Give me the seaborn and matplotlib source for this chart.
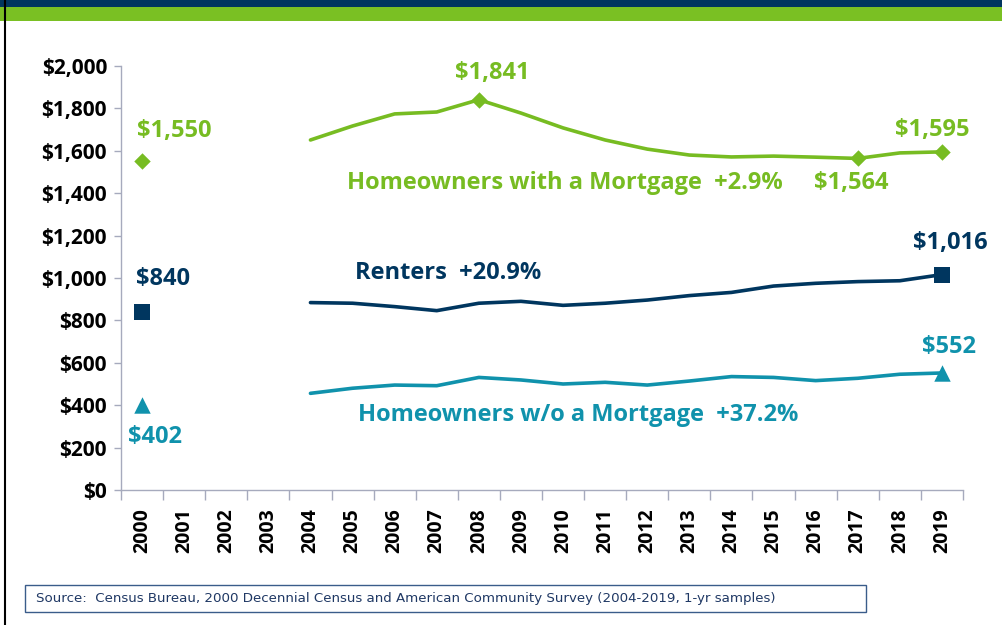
import numpy as np
import pandas as pd
import matplotlib
matplotlib.use("Agg")
import matplotlib.pyplot as plt
import seaborn as sns
from matplotlib.lines import Line2D
from matplotlib.patches import Rectangle

years = [str(y) for y in range(2000, 2020)]
mortgage = [1550, np.nan, np.nan, np.nan, 1651, 1717, 1774, 1783, 1841, 1778,
            1708, 1651, 1608, 1580, 1571, 1575, 1570, 1564, 1590, 1595]
renters = [840, np.nan, np.nan, np.nan, 884, 881, 865, 846, 881, 890,
           871, 881, 896, 917, 932, 962, 975, 983, 987, 1016]
no_mortgage = [402, np.nan, np.nan, np.nan, 456, 480, 495, 492, 531, 519,
               500, 508, 495, 514, 535, 531, 516, 527, 546, 552]
ytick_vals = [0, 200, 400, 600, 800, 1000, 1200, 1400, 1600, 1800, 2000]
ytick_labels = ["$0", "$200", "$400", "$600", "$800", "$1,000", "$1,200",
                "$1,400", "$1,600", "$1,800", "$2,000"]

GREEN = "#77BC22"
NAVY = "#00365F"
TEAL = "#1092AC"
AXIS = "#A6AABD"

sns.set_theme(style="white")
plt.rcParams['font.family'] = ['Open Sans', 'DejaVu Sans']

fig = plt.figure(figsize=(10.03, 6.25), dpi=100)
ax = fig.add_axes([121/1003, 1-490/625, 842/1003, 424/625])

df = pd.DataFrame({"idx": np.arange(len(years)), "year": years,
                   "mortgage": mortgage, "renters": renters, "no_mortgage": no_mortgage})
line_df = df[df["idx"] >= 4]

sns.lineplot(data=line_df, x="idx", y="mortgage", ax=ax, color=GREEN, lw=2.6)
sns.lineplot(data=line_df, x="idx", y="renters", ax=ax, color=NAVY, lw=2.6)
sns.lineplot(data=line_df, x="idx", y="no_mortgage", ax=ax, color=TEAL, lw=2.6)

# markers
m_idx = [0, 8, 17, 19]
ax.scatter(df["idx"].iloc[m_idx], df["mortgage"].iloc[m_idx], marker="D", s=70,
           color=GREEN, zorder=5, linewidths=0)
r_idx = [0, 19]
ax.scatter(df["idx"].iloc[r_idx], df["renters"].iloc[r_idx], marker="s", s=130,
           color=NAVY, zorder=5, linewidths=0)
ax.scatter(df["idx"].iloc[r_idx], df["no_mortgage"].iloc[r_idx], marker="^", s=140,
           color=TEAL, zorder=5, linewidths=0)

def px2data(px, py):
    return (px - 143) / 42.05, (490 - py) / 0.212

labels = [
    ("$1,550", 175, 131, GREEN),
    ("$1,841", 493, 73, GREEN),
    ("Homeowners with a Mortgage  +2.9%", 565, 183, GREEN),
    ("$1,564", 851, 183, GREEN),
    ("$1,595", 932, 130, GREEN),
    ("$1,016", 950, 243, NAVY),
    ("$840", 164, 279, NAVY),
    ("Renters  +20.9%", 449, 273, NAVY),
    ("$552", 949, 347, TEAL),
    ("$402", 156, 437, TEAL),
    ("Homeowners w/o a Mortgage  +37.2%", 579, 415, TEAL),
]
for txt, px, py, c in labels:
    x, y = px2data(px, py)
    ax.text(x, y, txt, color=c, fontsize=17, fontweight="bold",
            ha="center", va="center")

ax.set_xlim(-0.5, 19.5)
ax.set_ylim(0, 2000)
ax.set_yticks(ytick_vals)
ax.set_yticklabels(ytick_labels, fontsize=15, fontweight="bold", color="black")
ax.set_xticks(np.arange(len(years)))
ax.set_xticklabels(years, rotation=90, fontsize=14, fontweight="bold", color="black")
ax.set_xticks(np.arange(-0.5, 20, 1), minor=True)
ax.tick_params(axis="x", which="major", length=0, pad=13)
ax.tick_params(axis="x", which="minor", length=7, width=1, color=AXIS, direction="out", bottom=True)
ax.tick_params(axis="y", which="major", length=5, width=1, color=AXIS, direction="out", left=True, pad=5)
ax.set_xlabel("")
ax.set_ylabel("")
for s in ["top", "right"]:
    ax.spines[s].set_visible(False)
for s in ["left", "bottom"]:
    ax.spines[s].set_color(AXIS)
    ax.spines[s].set_linewidth(1)
ax.grid(False)

# header bands
fig.add_artist(Rectangle((0, 1-7/625), 1, 7/625, transform=fig.transFigure,
                         color="#00355F", lw=0))
fig.add_artist(Rectangle((0, 1-21/625), 1, 14/625, transform=fig.transFigure,
                         color="#7AC023", lw=0))
# left border line
fig.add_artist(Line2D([5/1003, 5/1003], [0, 1], transform=fig.transFigure,
                      color="black", lw=1.5))

# source box
fig.add_artist(Rectangle((25/1003, 1-612/625), 841/1003, 27/625, transform=fig.transFigure,
                         facecolor="white", edgecolor="#3A5C8A", lw=1))
fig.text(36/1003, 1-598.5/625,
         "Source:  Census Bureau, 2000 Decennial Census and American Community Survey (2004-2019, 1-yr samples)",
         fontsize=9.6, color="#1F3864", va="center", ha="left",
         family=["Liberation Sans Narrow", "DejaVu Sans"])

fig.savefig("out.png", dpi=100)
